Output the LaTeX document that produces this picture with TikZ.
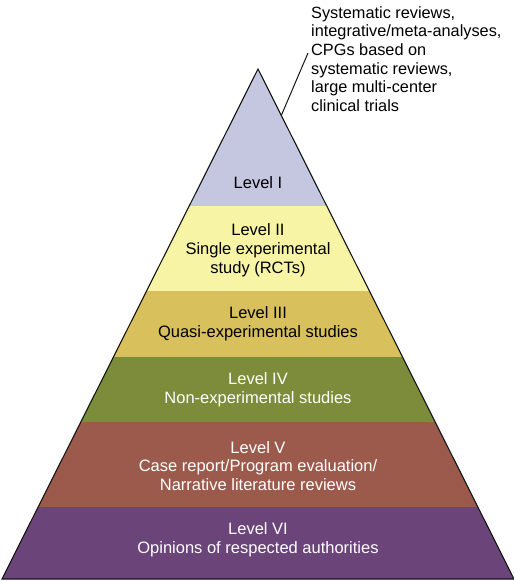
\documentclass[tikz,border=0pt]{standalone}
\usepackage{fontspec}
\setmainfont{Liberation Sans}
\usepackage{xcolor}
\usepackage{tikz}
\usetikzlibrary{positioning, calc}
\definecolor{lvlonefill}{RGB}{196,199,223}
\definecolor{lvltwofill}{RGB}{248,244,166}
\definecolor{lvlthreefill}{RGB}{216,192,92}
\definecolor{lvlfourfill}{RGB}{124,140,58}
\definecolor{lvlfivefill}{RGB}{156,90,76}
\definecolor{lvlsixfill}{RGB}{107,68,121}
\definecolor{pyrline}{RGB}{20,20,20}
\newcommand{\pyrx}[1]{(#1-69)*0.502}
\tikzset{
  lvllabel/.style  = {align=center, inner sep=0pt,
                      font=\fontsize{16.5}{18.8}\selectfont},
  darklabel/.style = {lvllabel, text=black},
  lightlabel/.style= {lvllabel, text=white},
  callout/.style   = {align=left, inner sep=0pt, anchor=west,
                      font=\fontsize{16.3}{18.6}\selectfont},
  outline/.style   = {draw=pyrline, line width=1.1pt, line join=miter},
  leader/.style    = {draw=pyrline, line width=1pt},
}

\begin{document}
\begin{tikzpicture}[x=1pt, y=-1pt]
\useasboundingbox (0,0) rectangle (514,582);

% ---------- Bands ----------
\foreach \ya/\yb/\col in {69/206/lvlonefill, 206/291/lvltwofill,
    291/357/lvlthreefill, 357/422/lvlfourfill, 422/507/lvlfivefill,
    507/579/lvlsixfill}{
  \fill[\col] ({258-\pyrx{\ya}},\ya) -- ({258+\pyrx{\ya}},\ya)
    -- ({258+\pyrx{\yb}},\yb) -- ({258-\pyrx{\yb}},\yb) -- cycle;
}

% ---------- Outline ----------
\coordinate (apex) at (258,69);
\coordinate (baseleft) at (2,579);
\coordinate (baseright) at (514,579);
\draw[outline] (apex) -- (baseright) -- (baseleft) -- cycle;

% ---------- Level labels ----------
\node[darklabel] (lvlI) at (258,183) {Level I};
\node[darklabel] (lvlII) at (258,250) {Level II\\Single experimental\\study (RCTs)};
\node[darklabel] (lvlIII) at (258,324) {Level III\\Quasi-experimental studies};
\node[lightlabel] (lvlIV) at (258,390) {Level IV\\Non-experimental studies};
\node[lightlabel] (lvlV) at (258,466) {Level V\\Case report/Program evaluation/\\Narrative literature reviews};
\node[lightlabel] (lvlVI) at (258,540) {Level VI\\Opinions of respected authorities};

% ---------- Callout ----------
\node[callout] (topnote) at (311,59) {Systematic reviews,\\integrative/meta-analyses,\\CPGs based on\\systematic reviews,\\large multi-center\\clinical trials};
\coordinate (notefoot) at ($(topnote.west)+(-3,-6)$);
\coordinate (edgetip) at (281.5,115);
\draw[leader] (notefoot) -- (edgetip);

\end{tikzpicture}
\end{document}
